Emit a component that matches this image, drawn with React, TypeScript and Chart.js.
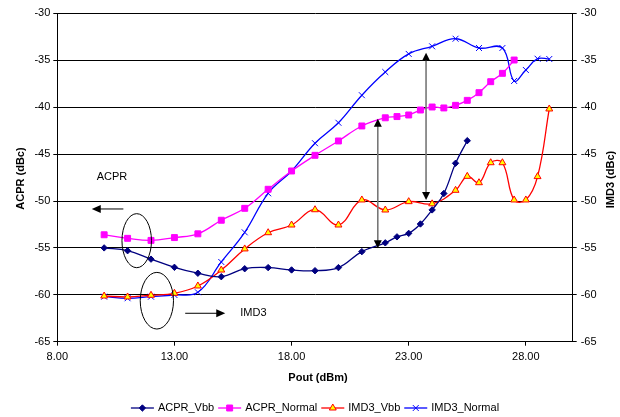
import React, { useEffect, useRef } from "react";
import { Chart, registerables } from "chart.js";

Chart.register(...registerables);

const FONT = "'Liberation Sans', Arial, Helvetica, sans-serif";

const xTicks = [8, 13, 18, 23, 28];
const yTicks = [-65, -60, -55, -50, -45, -40, -35, -30];

const seriesNames = ["ACPR_Vbb", "ACPR_Normal", "IMD3_Vbb", "IMD3_Normal"];

const acprVbbX = [10, 11, 12, 13, 14, 15, 16, 17, 18, 19, 20, 21, 22, 22.5, 23, 23.5, 24, 24.5, 25, 25.5];
const acprVbbY = [-55.0, -55.3, -56.2, -57.07, -57.7, -58.07, -57.22, -57.1, -57.35, -57.43, -57.1, -55.4, -54.46, -53.82, -53.45, -52.45, -50.95, -49.2, -45.98, -43.57];

const acprNormalX = [10, 11, 12, 13, 14, 15, 16, 17, 18, 19, 20, 21, 22, 22.5, 23, 23.5, 24, 24.5, 25, 25.5, 26, 26.5, 27, 27.5];
const acprNormalY = [-53.6, -53.98, -54.2, -53.9, -53.5, -52.05, -50.78, -48.75, -46.8, -45.13, -43.6, -42.0, -41.13, -41.0, -40.83, -40.3, -39.98, -40.08, -39.8, -39.27, -38.45, -37.28, -36.39, -34.97];

const imd3VbbX = [10, 11, 12, 13, 14, 15, 16, 17, 18, 19, 20, 21, 22, 23, 24, 25, 25.5, 26, 26.5, 27, 27.5, 28, 28.5, 29];
const imd3VbbY = [-60.13, -60.23, -60.05, -59.84, -59.06, -57.36, -55.11, -53.38, -52.56, -50.93, -52.56, -49.89, -50.96, -50.07, -50.3, -48.86, -47.37, -48.05, -45.92, -45.92, -49.89, -49.89, -47.4, -40.19];

const imd3NormalX = [10, 11, 12, 13, 14, 15, 16, 17, 18, 19, 20, 21, 22, 23, 24, 25, 26, 27, 27.5, 28, 28.5, 29];
const imd3NormalY = [-60.2, -60.37, -60.2, -60.02, -59.73, -56.5, -53.34, -49.18, -46.8, -43.84, -41.66, -38.72, -36.25, -34.32, -33.51, -32.7, -33.69, -33.69, -37.2, -36.03, -34.83, -34.86];

// Annotation anchors (in data units)
const vArrows = [
  { x: 21.68, yTop: -41.23, yBot: -55.04 },
  { x: 23.74, yTop: -34.19, yBot: -49.89 },
];
const hArrows = [
  { from: 10.82, to: 9.47, y: -50.85 },
  { from: 13.46, to: 15.17, y: -61.97 },
];
const ellipses = [
  { x: 11.39, y: -54.23, rx: 0.63, ry: 2.88 },
  { x: 12.25, y: -60.63, rx: 0.71, ry: 3.02 },
];
const notes = [
  { text: "ACPR", x: 9.68, y: -47.41 },
  { text: "IMD3", x: 15.81, y: -61.91 },
];

const toPts = (xs: number[], ys: number[]) => xs.map((x, i) => ({ x, y: ys[i] }));

function drawMarker(ctx: CanvasRenderingContext2D, style: string, x: number, y: number, r: number, fill: string, stroke: string) {
  ctx.save();
  ctx.fillStyle = fill;
  ctx.strokeStyle = stroke;
  ctx.lineWidth = 1;
  ctx.beginPath();
  if (style === "rectRot") {
    ctx.moveTo(x, y - r);
    ctx.lineTo(x + r, y);
    ctx.lineTo(x, y + r);
    ctx.lineTo(x - r, y);
    ctx.closePath();
    ctx.fill();
    ctx.stroke();
  } else if (style === "rect") {
    const s = r * Math.SQRT1_2;
    ctx.rect(x - s, y - s, 2 * s, 2 * s);
    ctx.fill();
    ctx.stroke();
  } else if (style === "triangle") {
    const h = r * 1.5;
    const w = r * Math.sqrt(3) / 2;
    ctx.moveTo(x, y - r);
    ctx.lineTo(x + w * 1.0, y + r / 2);
    ctx.lineTo(x - w * 1.0, y + r / 2);
    ctx.closePath();
    ctx.fill();
    ctx.stroke();
    void h;
  } else if (style === "crossRot") {
    const d = r * Math.SQRT1_2;
    ctx.moveTo(x - d, y - d);
    ctx.lineTo(x + d, y + d);
    ctx.moveTo(x + d, y - d);
    ctx.lineTo(x - d, y + d);
    ctx.stroke();
  }
  ctx.restore();
}

export default function App() {
  const ref = useRef<HTMLCanvasElement>(null);

  useEffect(() => {
    document.body.style.margin = "0";
    const canvas = ref.current;
    if (!canvas) return;
    const ctx = canvas.getContext("2d");
    if (!ctx) return;

    const markerInfo = [
      { style: "rectRot", r: 3.2, fill: "#000080", stroke: "#000080", line: "#000080" },
      { style: "rect", r: 4.2, fill: "#FF00FF", stroke: "#FF00FF", line: "#FF00FF" },
      { style: "triangle", r: 4, fill: "#FFFF00", stroke: "#FF0000", line: "#FF0000" },
      { style: "crossRot", r: 4.2, fill: "#0000FF", stroke: "#0000FF", line: "#0000FF" },
    ];

    const annotPlugin = {
      id: "annot",
      afterDatasetsDraw(chart: any) {
        const c = chart.ctx as CanvasRenderingContext2D;
        const xs = chart.scales.x;
        const ys = chart.scales.y;
        const X = (v: number) => xs.getPixelForValue(v);
        const Y = (v: number) => ys.getPixelForValue(v);
        c.save();

        // vertical double arrows
        vArrows.forEach((a) => {
          const x = X(a.x);
          const yt = Y(a.yTop);
          const yb = Y(a.yBot);
          c.strokeStyle = "#777777";
          c.lineWidth = 1.6;
          c.beginPath();
          c.moveTo(x, yt + 6);
          c.lineTo(x, yb - 6);
          c.stroke();
          c.fillStyle = "#000000";
          c.beginPath();
          c.moveTo(x, yt);
          c.lineTo(x + 4, yt + 8);
          c.lineTo(x - 4, yt + 8);
          c.closePath();
          c.fill();
          c.beginPath();
          c.moveTo(x, yb);
          c.lineTo(x + 4, yb - 8);
          c.lineTo(x - 4, yb - 8);
          c.closePath();
          c.fill();
        });

        // horizontal arrows
        hArrows.forEach((a) => {
          const x1 = X(a.from);
          const x2 = X(a.to);
          const y = Y(a.y);
          const dir = x2 > x1 ? 1 : -1;
          c.strokeStyle = "#000000";
          c.lineWidth = 1;
          c.beginPath();
          c.moveTo(x1, y);
          c.lineTo(x2 - dir * 7, y);
          c.stroke();
          c.fillStyle = "#000000";
          c.beginPath();
          c.moveTo(x2, y);
          c.lineTo(x2 - dir * 9, y - 4);
          c.lineTo(x2 - dir * 9, y + 4);
          c.closePath();
          c.fill();
        });

        // ellipses
        ellipses.forEach((e) => {
          const cx = X(e.x);
          const cy = Y(e.y);
          const rx = Math.abs(X(e.x + e.rx) - cx);
          const ry = Math.abs(Y(e.y + e.ry) - cy);
          c.strokeStyle = "#000000";
          c.lineWidth = 1;
          c.beginPath();
          c.ellipse(cx, cy, rx, ry, 0, 0, Math.PI * 2);
          c.stroke();
        });

        // notes
        c.fillStyle = "#000000";
        c.font = `11px ${FONT}`;
        c.textAlign = "left";
        c.textBaseline = "middle";
        notes.forEach((n) => {
          c.fillText(n.text, X(n.x), Y(n.y));
        });
        c.restore();
      },
      afterDraw(chart: any) {
        const c = chart.ctx as CanvasRenderingContext2D;
        const area = chart.chartArea;
        c.save();
        // axis titles
        c.fillStyle = "#000000";
        c.font = `bold 11px ${FONT}`;
        c.textAlign = "center";
        c.textBaseline = "middle";
        const midX = (area.left + area.right) / 2;
        const midY = (area.top + area.bottom) / 2;
        c.fillText("Pout (dBm)", midX + 3, 377.5);
        c.save();
        c.translate(21, midY + 1);
        c.rotate(-Math.PI / 2);
        c.fillText("ACPR (dBc)", 0, 0);
        c.restore();
        c.save();
        c.translate(610.5, midY + 2);
        c.rotate(-Math.PI / 2);
        c.fillText("IMD3 (dBc)", 0, 0);
        c.restore();

        // legend
        c.font = `11px ${FONT}`;
        c.textAlign = "left";
        const lineLen = 23;
        const gapAfterLine = 4;
        const gapItems = 4;
        const widths = seriesNames.map((n) => c.measureText(n).width);
        const total = widths.reduce((s, w) => s + lineLen + gapAfterLine + w, 0) + gapItems * (seriesNames.length - 1);
        let x = midX - total / 2;
        const ly = 408;
        seriesNames.forEach((n, i) => {
          const m = markerInfo[i];
          c.strokeStyle = m.line;
          c.lineWidth = 1.3;
          c.beginPath();
          c.moveTo(x, ly);
          c.lineTo(x + lineLen, ly);
          c.stroke();
          drawMarker(c, m.style, x + lineLen / 2, ly, m.r, m.fill, m.stroke);
          c.fillStyle = "#000000";
          c.fillText(n, x + lineLen + gapAfterLine, ly);
          x += lineLen + gapAfterLine + widths[i] + gapItems;
        });
        c.restore();
      },
    };

    const tickFont = { family: FONT, size: 11 };

    const mkDs = (label: string, xs: number[], ys: number[], i: number, axis: string) => {
      const m = markerInfo[i];
      return {
        label,
        data: toPts(xs, ys),
        yAxisID: axis,
        borderColor: m.line,
        backgroundColor: m.fill,
        borderWidth: 1.3,
        pointStyle: m.style,
        pointRadius: m.r,
        pointBackgroundColor: m.fill,
        pointBorderColor: m.stroke,
        pointBorderWidth: 1,
        tension: 0.4,
        fill: false,
      };
    };

    const chart = new Chart(ctx, {
      type: "line",
      data: {
        datasets: [
          mkDs(seriesNames[0], acprVbbX, acprVbbY, 0, "y"),
          mkDs(seriesNames[1], acprNormalX, acprNormalY, 1, "y"),
          mkDs(seriesNames[2], imd3VbbX, imd3VbbY, 2, "y1"),
          mkDs(seriesNames[3], imd3NormalX, imd3NormalY, 3, "y1"),
        ] as any,
      },
      options: {
        responsive: false,
        animation: false,
        devicePixelRatio: 1,
        layout: { padding: { top: 13.4, left: 0, right: 0, bottom: 0 } },
        plugins: {
          legend: { display: false },
          tooltip: { enabled: false },
          title: { display: false },
        },
        scales: {
          x: {
            type: "linear",
            min: 8,
            max: 30,
            afterBuildTicks: (s: any) => {
              s.ticks = xTicks.map((v) => ({ value: v }));
            },
            afterFit: (s: any) => {
              s.height = 75.3;
            },
            ticks: {
              callback: (v: any) => Number(v).toFixed(2),
              font: tickFont,
              color: "#000000",
              padding: 5,
              maxRotation: 0,
              autoSkip: false,
            },
            grid: { drawOnChartArea: false, drawTicks: true, tickLength: 4, color: "#000000" },
            border: { display: true, color: "#000000", width: 1 },
          },
          y: {
            type: "linear",
            position: "left",
            min: -65,
            max: -30,
            afterBuildTicks: (s: any) => {
              s.ticks = yTicks.map((v) => ({ value: v }));
            },
            afterFit: (s: any) => {
              s.width = 57.3;
            },
            ticks: { font: tickFont, color: "#000000", padding: 3 },
            grid: { color: "#000000", lineWidth: 1, tickLength: 4, drawTicks: true },
            border: { display: true, color: "#000000", width: 1 },
          },
          y1: {
            type: "linear",
            position: "right",
            min: -65,
            max: -30,
            afterBuildTicks: (s: any) => {
              s.ticks = yTicks.map((v) => ({ value: v }));
            },
            afterFit: (s: any) => {
              s.width = 47.3;
            },
            ticks: { font: tickFont, color: "#000000", padding: 4 },
            grid: { drawOnChartArea: false, color: "#000000", tickLength: 4, drawTicks: true },
            border: { display: true, color: "#000000", width: 1 },
          },
        },
      } as any,
      plugins: [annotPlugin],
    });

    return () => chart.destroy();
  }, []);

  return <canvas ref={ref} width={620} height={417} style={{ display: "block" }} />;
}
